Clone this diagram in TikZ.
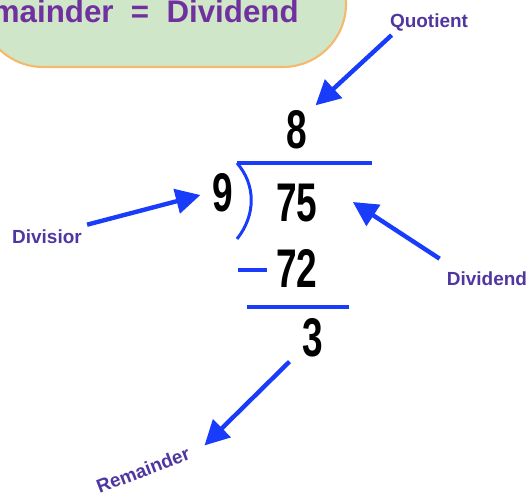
\documentclass[tikz,border=0pt]{standalone}
\usepackage{fontspec}
\setmainfont{Liberation Sans}
\usetikzlibrary{arrows.meta}
\definecolor{azul}{RGB}{25,60,250}
\definecolor{morado}{RGB}{112,48,160}
\definecolor{etiq}{RGB}{80,55,160}
\definecolor{verde}{RGB}{207,230,200}
\definecolor{naranja}{RGB}{245,185,110}

\begin{document}
\begin{tikzpicture}[x=0.02cm,y=-0.02cm,
  cifra/.style={font=\bfseries\fontsize{31}{31}\selectfont, xscale=0.68, inner sep=0pt},
  etiqueta/.style={font=\bfseries\fontsize{10.8}{12}\selectfont, text=etiq, inner sep=0pt},
  flecha/.style={azul, line width=2.5pt, -{Triangle[length=14pt,width=14pt]}},
  raya/.style={azul, line width=2.2pt}]
  \clip (0,0) rectangle (532,496);

  % Recuadro de la formula (cortado por el borde)
  \draw[fill=verde, draw=naranja, line width=1.2pt, rounded corners=36]
    (-20,-60) -- (346,-60) -- (346,67) -- (-20,67) -- cycle;
  \node[anchor=base east, inner sep=0pt, text=morado,
        font=\bfseries\fontsize{17.8}{18}\selectfont] (formula) at (299,23) {mainder\ \ =\ \ Dividend};

  % Cifras de la division
  \node[cifra] (ocho) at (297,130) {8};
  \node[cifra] (nueve) at (223,193) {9};
  \node[cifra] (setenta) at (297,203) {75};
  \node[cifra] (resta) at (297,268) {72};
  \node[cifra] (tres) at (313,338) {3};

  % Galera, signo menos y raya
  \draw[raya] (237,163) -- (372,163);
  \draw[azul, line width=1.7pt] (237,163) .. controls (256,185) and (256,215) .. (237,239);
  \draw[raya] (238,270) -- (267,270);
  \draw[raya] (247,307) -- (349,307);

  % Etiquetas
  \node[etiqueta] (cociente) at (429,22) {Quotient};
  \node[etiqueta] (divisor) at (47,237) {Divisior};
  \node[etiqueta] (dividendo) at (487,279) {Dividend};
  \node[etiqueta, rotate=21] (residuo) at (143,470) {Remainder};

  % Flechas
  \draw[flecha] ([shift={(2,4)}]cociente.south west) -- ([shift={(8,-5)}]ocho.north east);
  \draw[flecha] ([shift={(5,-5)}]divisor.north east) -- ([shift={(-12,2)}]nueve.west);
  \draw[flecha] ([shift={(-7,-13)}]dividendo.north west) -- ([shift={(35,-1)}]setenta.east);
  \draw[flecha] ([shift={(-13,4)}]tres.south west) -- ([shift={(18,0)}]residuo.north east);
\end{tikzpicture}
\end{document}
